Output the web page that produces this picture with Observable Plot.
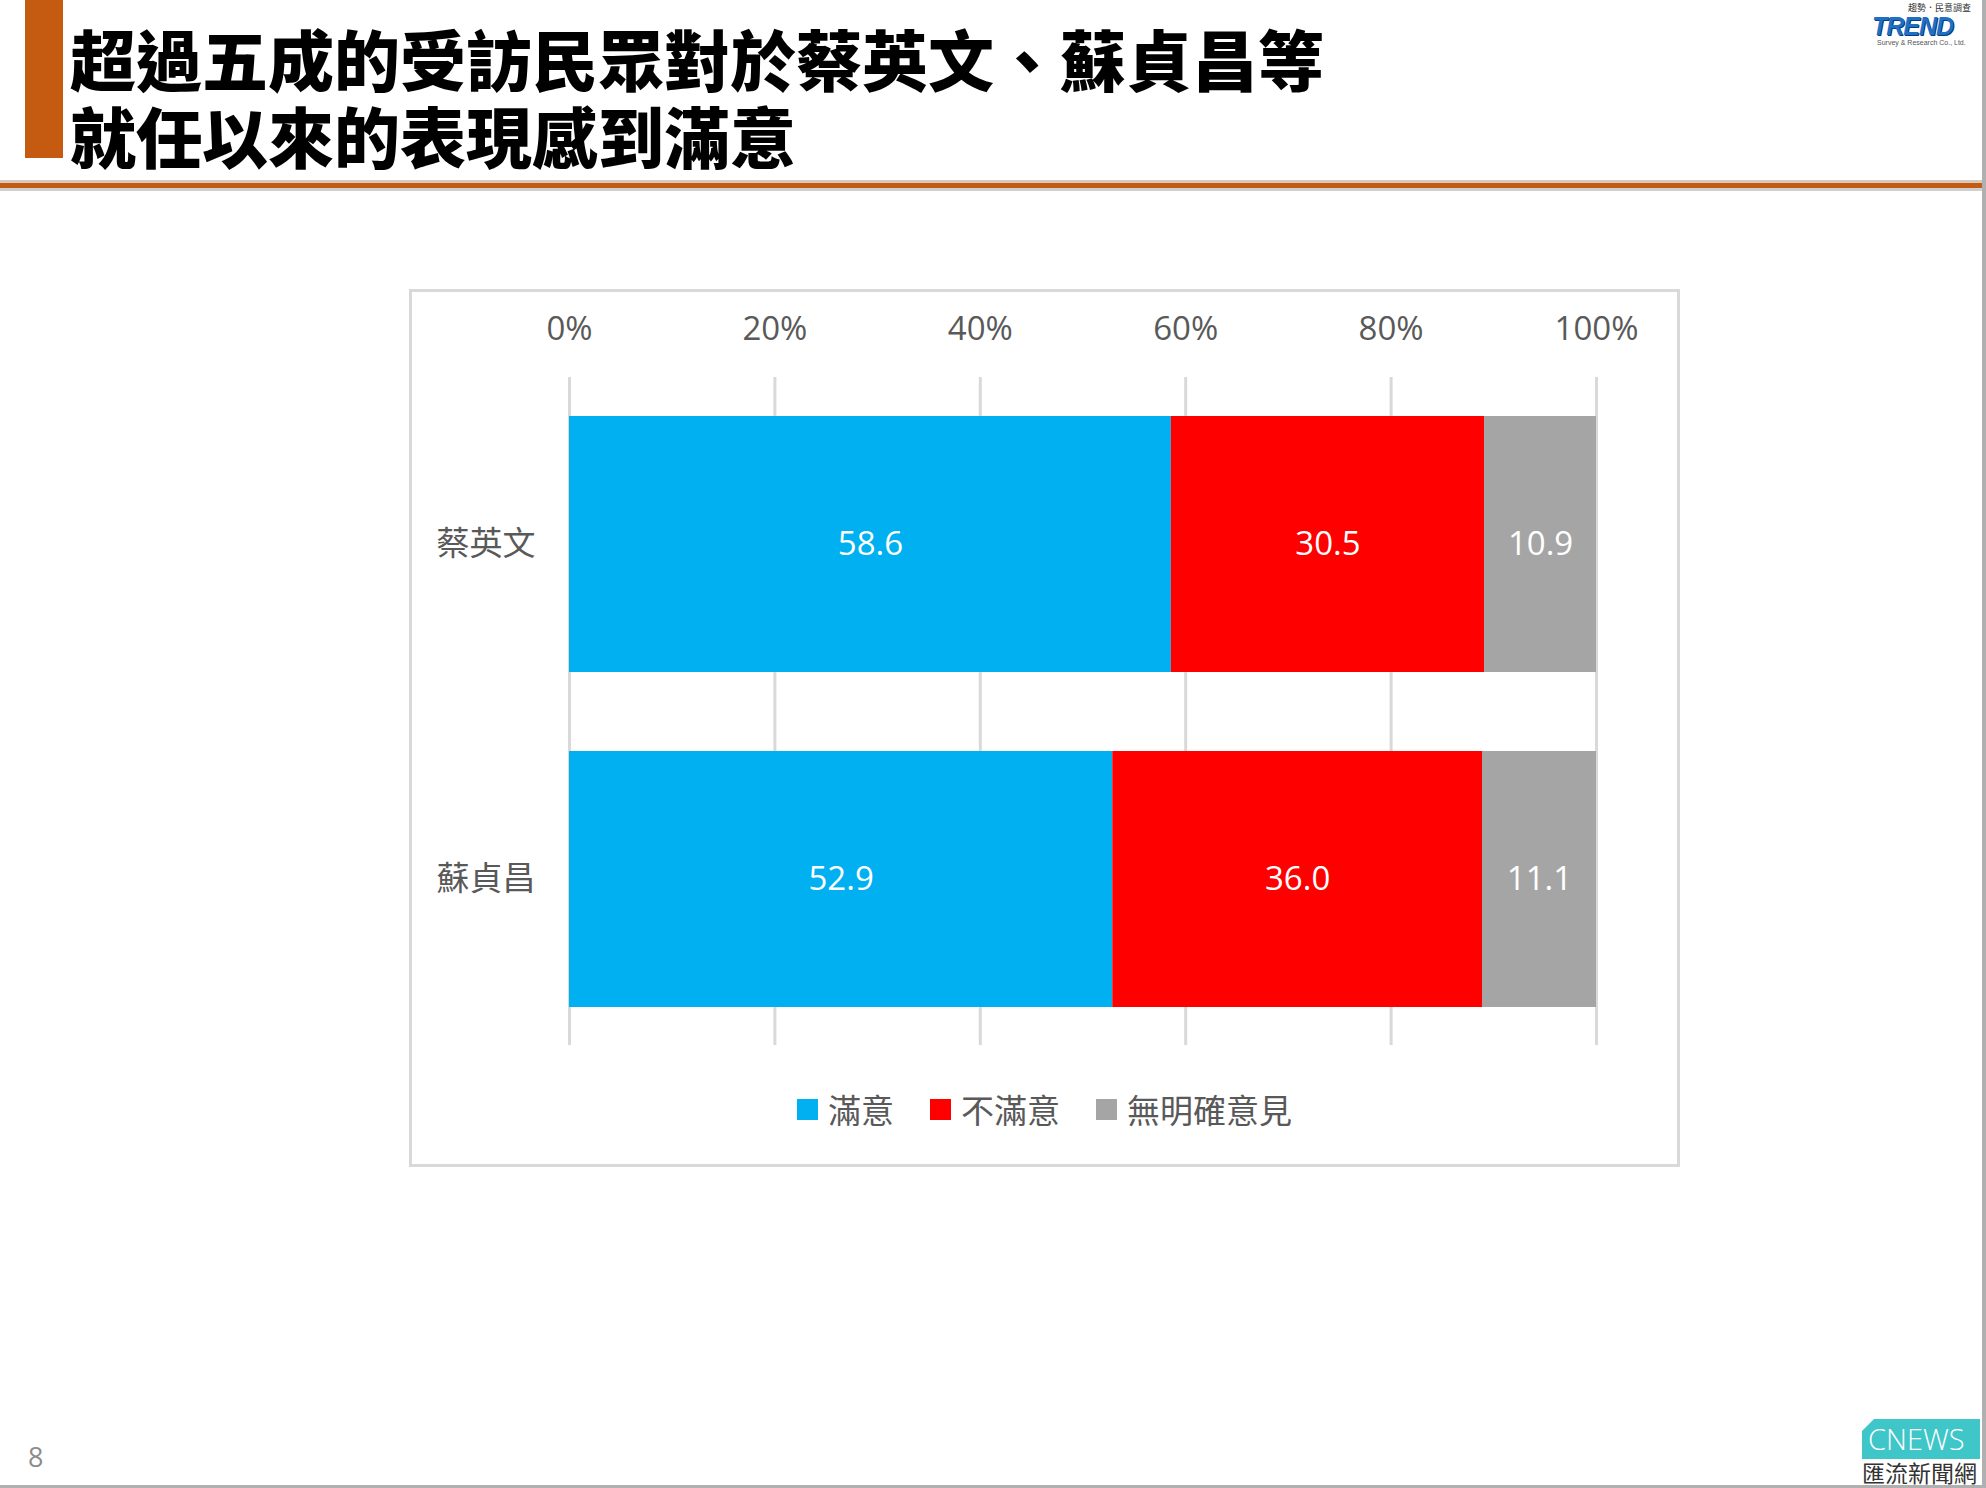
<!DOCTYPE html>
<html>
<head>
<meta charset="utf-8">
<script src="https://cdn.jsdelivr.net/npm/d3@7"></script>
<script src="https://cdn.jsdelivr.net/npm/@observablehq/plot@0.6"></script>
<style>
  html, body { margin: 0; padding: 0; background: #fff; }
  #page { position: relative; width: 1986px; height: 1488px; overflow: hidden; background: #fff;
          font-family: 'Open Sans', 'Noto Sans CJK TC', sans-serif; }
  .abs { position: absolute; white-space: nowrap; }
  .title { left: 70px; font-family: 'Noto Sans CJK TC', sans-serif; font-weight: 900;
           font-size: 66px; line-height: 70px; height: 70px; color: #000; }
  #chartbox { left: 409px; top: 289px; width: 1265px; height: 872px; border: 3px solid #d9d9d9; }
  #plot { left: 409px; top: 289px; }
  #legend { left: 409px; width: 1271px; top: 1089px; line-height: 40px; display: flex; justify-content: center; align-items: center;
            font-family: 'Noto Sans CJK TC', sans-serif; font-size: 33px; color: #595959; }
  .item { display: flex; align-items: center; margin: 0 18px; }
  .sw { width: 21px; height: 21px; margin-right: 10px; }
</style>
</head>
<body>
<div id="page">
  <div class="abs" style="left:25px;top:0;width:38px;height:158px;background:#c55a11;"></div>
  <div class="abs title" style="top:22px;">超過五成的受訪民眾對於蔡英文、蘇貞昌等</div>
  <div class="abs title" style="top:99px;">就任以來的表現感到滿意</div>
  <div class="abs" style="left:0;top:180px;width:1982px;height:3px;background:#d6c9bf;"></div>
  <div class="abs" style="left:0;top:183px;width:1982px;height:5px;background:#c55a11;"></div>
  <div class="abs" style="left:0;top:188px;width:1982px;height:3px;background:#cfcfcf;"></div>

  <!-- TREND logo -->
  <div class="abs" style="left:1908px;top:3px;font-family:'Noto Sans CJK TC',sans-serif;font-size:9px;line-height:10px;color:#333;">趨勢．民意調查</div>
  <div class="abs" style="left:1872px;top:15px;font-family:'Liberation Sans',sans-serif;font-weight:bold;font-style:italic;font-size:25px;line-height:22px;color:#1f6fc4;letter-spacing:-1px;text-shadow:1px 1px 0 #0a3d7a;">TREND</div>
  <div class="abs" style="left:1877px;top:39px;font-family:'Liberation Sans',sans-serif;font-size:7px;line-height:8px;color:#555;">Survey &amp; Research Co., Ltd.</div>

  <div class="abs" id="chartbox"></div>
  <div class="abs" id="plot"></div>
  <div class="abs" id="legend"></div>

  <div class="abs" style="left:28px;top:1440px;font-size:27px;line-height:34px;color:#8c8c8c;">8</div>

  <!-- CNEWS logo -->
  <div class="abs" style="left:1862px;top:1419px;width:118px;height:40px;background:#3ec6c9;clip-path:polygon(12px 0,100% 0,100% 100%,0 100%,0 12px);"></div>
  <div class="abs" style="left:1868px;top:1421px;font-family:'Open Sans',sans-serif;font-weight:300;font-size:29px;line-height:36px;color:#fff;">CNEWS</div>
  <div class="abs" style="left:1862px;top:1461px;font-family:'Noto Sans CJK TC',sans-serif;font-size:23px;line-height:23px;color:#333;">匯流新聞網</div>

  <div class="abs" style="left:1982px;top:0;width:4px;height:1488px;background:#b0b0b0;"></div>
  <div class="abs" style="left:0;top:1485px;width:1986px;height:3px;background:#b0b0b0;"></div>
</div>
<script>
const names = ["蔡英文", "蘇貞昌"];
const categories = ["滿意", "不滿意", "無明確意見"];
const satisfied = [58.6, 52.9];
const dissatisfied = [30.5, 36.0];
const noOpinion = [10.9, 11.1];
const colors = ["#00b0f0", "#ff0000", "#a5a5a5"];
const xTicks = [0, 20, 40, 60, 80, 100];

const series = [satisfied, dissatisfied, noOpinion];
const table = [];
names.forEach((n, i) => {
  categories.forEach((c, j) => table.push({name: n, cat: c, value: series[j][i]}));
});
const fmt = d3.format(".1f");

const chart = Plot.plot({
  width: 1271,
  height: 878,
  marginLeft: 160,
  marginRight: 84,
  marginTop: 88,
  marginBottom: 122,
  style: {fontFamily: "'Open Sans', 'Noto Sans CJK TC', sans-serif", background: "transparent", overflow: "visible"},
  x: {domain: [0, 100], label: null},
  y: {domain: names, paddingInner: 0.236, paddingOuter: 0.115, label: null},
  color: {domain: categories, range: colors},
  marks: [
    Plot.gridX(xTicks, {stroke: "#d9d9d9", strokeOpacity: 1, strokeWidth: 3}),
    Plot.barX(table, Plot.stackX({x: "value", y: "name", fill: "cat", z: "cat"})),
    Plot.text(table, Plot.stackX({x: "value", y: "name", z: "cat", text: d => fmt(d.value), fill: "white", fontSize: 33})),
    Plot.axisX(xTicks, {anchor: "top", tickFormat: d => d + "%", tickSize: 0, tickPadding: 38, fontSize: 33, fill: "#595959", label: null}),
    Plot.axisY({tickSize: 0, tickPadding: 34, fontSize: 33, fill: "#595959", label: null, fontFamily: "'Noto Sans CJK TC', sans-serif"})
  ]
});
document.getElementById("plot").appendChild(chart);

const legend = document.getElementById("legend");
categories.forEach((c, i) => {
  const item = document.createElement("div");
  item.className = "item";
  const sw = document.createElement("div");
  sw.className = "sw";
  sw.style.background = colors[i];
  const t = document.createElement("span");
  t.textContent = c;
  item.appendChild(sw);
  item.appendChild(t);
  legend.appendChild(item);
});
</script>
</body>
</html>
